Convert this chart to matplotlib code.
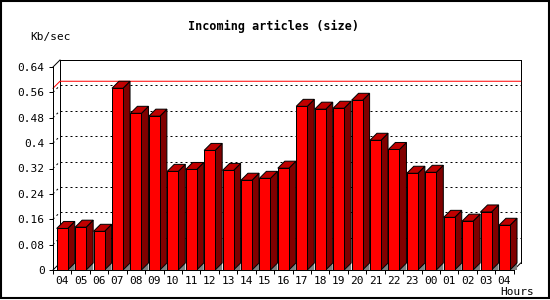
import matplotlib
matplotlib.use('Agg')
import matplotlib.pyplot as plt
from matplotlib.patches import Polygon, Rectangle

hours = ['04', '05', '06', '07', '08', '09', '10', '11', '12', '13', '14', '15', '16',
         '17', '18', '19', '20', '21', '22', '23', '00', '01', '02', '03', '04']
kbsec = [0.131, 0.135, 0.122, 0.573, 0.494, 0.485, 0.311, 0.317, 0.377, 0.314, 0.283, 0.289,
         0.321, 0.516, 0.507, 0.510, 0.535, 0.409, 0.380, 0.305, 0.308, 0.166, 0.154, 0.183, 0.141]
yticks = [0, 0.08, 0.16, 0.24, 0.32, 0.4, 0.48, 0.56, 0.64]
ylabels = ['0', '0.08', '0.16', '0.24', '0.32', '0.4', '0.48', '0.56', '0.64']

plt.rcParams['font.family'] = 'DejaVu Sans Mono'
lw = 0.72  # 1 px

fig = plt.figure(figsize=(5.5, 3), dpi=100)
fig.patch.set_facecolor('white')
W, H = 550, 300
ax = fig.add_axes([53 / W, 30 / H, 460.7 / W, 203 / H])
n = len(hours)
top = yticks[-1]
ax.set_xlim(0, n)
ax.set_ylim(0, top)
for s in ax.spines.values():
    s.set_visible(False)

# depth of the fake 3d, 7 px in data units
dx = 7 / (460.7 / n)
dy = 7 * top / 203

# ticks
ax.set_xticks(range(n + 1))
ax.set_xticklabels([])
ax.set_xticks([i + 0.5 for i in range(n)], minor=True)
ax.set_xticklabels(hours, minor=True, fontsize=8)
ax.tick_params(axis='x', which='major', length=3, width=lw, direction='out')
ax.tick_params(axis='x', which='minor', length=0, pad=4)
ax.set_yticks(yticks)
ax.set_yticklabels(ylabels, fontsize=8)
ax.tick_params(axis='y', length=3, width=lw, direction='out', pad=3)

k = dict(color='black', lw=lw, clip_on=False, zorder=1)
dot = dict(color='black', lw=lw, clip_on=False, zorder=1, dashes=(2, 3))

# back wall
ax.plot([dx, n + dx], [top + dy, top + dy], **k)
ax.plot([n + dx, n + dx], [dy, top + dy], **k)
ax.plot([dx, dx], [dy, top + dy], **k)
ax.plot([0, dx], [top, top + dy], **k)
ax.plot([0, dx], [0, dy], **k)
ax.plot([n, n + dx], [0, dy], **k)
for v in yticks[1:-1]:
    ax.plot([dx, n + dx], [v + dy, v + dy], **dot)
    ax.plot([0, dx], [v, v + dy], **dot)

# max line
m = max(kbsec)
ax.plot([0, dx, n + dx], [m, m + dy, m + dy], color='#ff0000', lw=lw, clip_on=False, zorder=1)

# bars
for i, v in enumerate(kbsec):
    x0 = i + 0.2
    w = 0.6
    ax.add_patch(Polygon([(x0 + w, 0), (x0 + w + dx, dy), (x0 + w + dx, 0)],
                         fc='#808080', ec='none', clip_on=False, zorder=2))
    ax.add_patch(Polygon([(x0 + w, 0), (x0 + w, v), (x0 + w + dx, v + dy), (x0 + w + dx, dy)],
                         fc='#800000', ec='black', lw=lw, clip_on=False, zorder=3))
    ax.add_patch(Polygon([(x0, v), (x0 + w, v), (x0 + w + dx, v + dy), (x0 + dx, v + dy)],
                         fc='#c00000', ec='black', lw=lw, clip_on=False, zorder=3))
    ax.add_patch(Rectangle((x0, 0), w, v, fc='#ff0000', ec='black', lw=lw,
                           clip_on=False, zorder=4))

# front axes
ax.plot([0, 0], [0, top], color='black', lw=lw, clip_on=False, zorder=5)
ax.plot([0, n], [0, 0], color='black', lw=lw, clip_on=False, zorder=5)

fig.text(273.7 / W, 1 - 26 / H, 'Incoming articles (size)', ha='center', va='center',
         fontsize=8.5, fontweight='bold')
fig.text(30 / W, 1 - 37 / H, 'Kb/sec', ha='left', va='center', fontsize=8)
fig.text(534 / W, 1 - 292 / H, 'Hours', ha='right', va='center', fontsize=8)

fig.patches.append(Rectangle((1 / W, 2 / H), 547.5 / W, 297 / H, transform=fig.transFigure,
                             fill=False, ec='black', lw=1.5))

fig.savefig('out.png', dpi=100)
